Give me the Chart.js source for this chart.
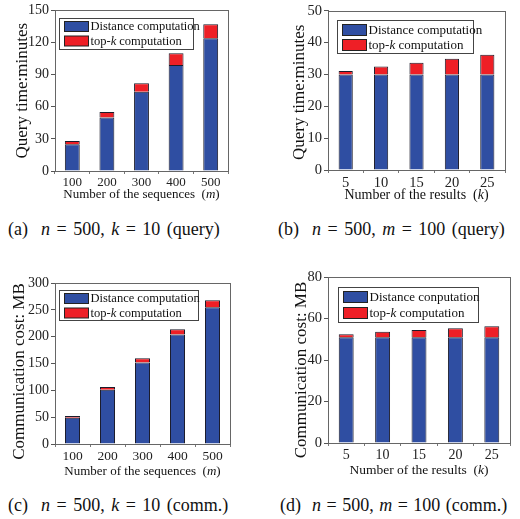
<!DOCTYPE html>
<html>
<head>
<meta charset="utf-8">
<script src="https://cdn.jsdelivr.net/npm/chart.js@4.4.1/dist/chart.umd.min.js"></script>
<style>
  body { margin: 0; background: #fff; width: 520px; height: 519px; position: relative; overflow: hidden; font-family: "Liberation Serif", serif; }
  canvas { position: absolute; }
  .cap { position: absolute; font-size: 18px; line-height: 20px; color: #111; white-space: pre; word-spacing: 2px; }
</style>
</head>
<body>
<canvas id="chartA" width="260" height="210" style="left:0;top:0"></canvas>
<canvas id="chartB" width="260" height="210" style="left:260px;top:0"></canvas>
<canvas id="chartC" width="260" height="215" style="left:0;top:265px"></canvas>
<canvas id="chartD" width="260" height="215" style="left:260px;top:265px"></canvas>

<div class="cap" style="left:8px;top:219px">(a)  <i>n</i> = 500, <i>k</i> = 10 (query)</div>
<div class="cap" style="left:278px;top:219px">(b)  <i>n</i> = 500, <i>m</i> = 100 (query)</div>
<div class="cap" style="left:8px;top:495px">(c)  <i>n</i> = 500, <i>k</i> = 10 (comm.)</div>
<div class="cap" style="left:280px;top:495px;word-spacing:1px">(d)  <i>n</i> = 500, <i>m</i> = 100 (comm.)</div>

<script>
// categories
const seqLabels = ['100', '200', '300', '400', '500'];
const resLabels = ['5', '10', '15', '20', '25'];

// (a) query time vs number of sequences
const queryDistSeq = [25, 50, 74, 99, 124];
const queryTopkSeq = [3, 5, 8, 11, 13];
// (b) query time vs number of results
const queryDistRes = [30, 30, 30, 30, 30];
const queryTopkRes = [1.1, 2.5, 3.7, 4.9, 6.2];
// (c) communication cost vs number of sequences
const commDistSeq = [49, 101, 152, 204, 255];
const commTopkSeq = [3, 5, 8, 10, 13];
// (d) communication cost vs number of results
const commDistRes = [51, 51, 51, 51, 51];
const commTopkRes = [1.4, 2.6, 3.4, 4.3, 5.3];

const FONT = '"Liberation Serif", "Times New Roman", serif';
const BLUE = '#2f4ea2';
const RED = '#ee1f26';

// text with *italic* parts
function drawRich(ctx, text, x, y, size, align) {
  const parts = text.split('*');
  let total = 0;
  parts.forEach((p, i) => {
    ctx.font = (i % 2 ? 'italic ' : '') + size + 'px ' + FONT;
    total += ctx.measureText(p).width;
  });
  let cx = align === 'center' ? x - total / 2 : x;
  ctx.textAlign = 'left';
  ctx.textBaseline = 'middle';
  ctx.fillStyle = '#111';
  parts.forEach((p, i) => {
    ctx.font = (i % 2 ? 'italic ' : '') + size + 'px ' + FONT;
    ctx.fillText(p, cx, y);
    cx += ctx.measureText(p).width;
  });
}

const framePlugin = {
  id: 'frame',
  afterDraw(chart, args, opts) {
    const { ctx, chartArea: a } = chart;
    ctx.save();
    ctx.strokeStyle = '#666';
    ctx.lineWidth = 1;
    ctx.strokeRect(Math.round(a.left) + 0.5, Math.round(a.top) + 0.5, Math.round(a.right - a.left), Math.round(a.bottom - a.top));

    // legend box inside the plot
    const lg = opts.legend;
    const bx = Math.round(a.left + lg.x) + 0.5, by = Math.round(a.top + lg.y) + 0.5;
    ctx.fillStyle = '#fff';
    ctx.fillRect(bx, by, lg.w, lg.h);
    ctx.strokeStyle = '#444';
    ctx.strokeRect(bx, by, lg.w, lg.h);
    chart.data.datasets.forEach((ds, i) => {
      const sy = by + lg.pad + i * lg.step;
      ctx.fillStyle = ds.backgroundColor;
      ctx.fillRect(bx + 5, sy, 24, lg.box);
      ctx.strokeStyle = '#222';
      ctx.strokeRect(bx + 5, sy, 24, lg.box);
      drawRich(ctx, ds.label, bx + 31, sy + lg.box / 2 + 0.5, lg.font);
    });

    // axis titles
    drawRich(ctx, opts.xTitle, (a.left + a.right) / 2, a.bottom + opts.xTitleDy, opts.xFont, 'center');
    ctx.translate(opts.yTitleX, (a.top + a.bottom) / 2 + opts.yTitleDy);
    ctx.rotate(-Math.PI / 2);
    drawRich(ctx, opts.yTitle, 0, 0, 17, 'center');
    ctx.restore();
  }
};

function makeChart(id, p) {
  return new Chart(document.getElementById(id), {
    type: 'bar',
    data: {
      labels: p.labels,
      datasets: [
        { label: p.distLabel, data: p.dist, backgroundColor: BLUE, borderColor: '#1c1c2a', borderWidth: 1 },
        { label: 'top-*k* computation', data: p.topk, backgroundColor: RED, borderColor: '#1c1c2a', borderWidth: 1 }
      ]
    },
    options: {
      responsive: false,
      animation: false,
      layout: { padding: { top: p.pt, right: p.pr, left: 0, bottom: 0 } },
      datasets: { bar: { categoryPercentage: 1, barPercentage: p.bar } },
      plugins: {
        legend: { display: false },
        tooltip: { enabled: false },
        frame: {
          legend: p.legend, xTitle: p.xTitle, xTitleDy: p.xTitleDy, xFont: p.xFont,
          yTitle: p.yTitle, yTitleX: p.yTitleX, yTitleDy: p.yTitleDy
        }
      },
      scales: {
        x: {
          stacked: true,
          offset: true,
          grid: { drawOnChartArea: false, drawTicks: true, tickLength: 3, offset: true, color: '#777' },
          border: { color: '#666' },
          ticks: { font: { family: FONT, size: p.xTick }, color: '#222', padding: 1 },
          afterFit: s => { s.height = p.xh; }
        },
        y: {
          stacked: true,
          min: 0,
          max: p.max,
          ticks: { stepSize: p.step, font: { family: FONT, size: p.yTick }, color: '#222', padding: 2 },
          grid: { drawOnChartArea: false, tickLength: 4, color: '#555' },
          border: { color: '#666' },
          afterFit: s => { s.width = p.yw; }
        }
      }
    },
    plugins: [framePlugin]
  });
}

makeChart('chartA', {
  labels: seqLabels, dist: queryDistSeq, topk: queryTopkSeq, distLabel: 'Distance computation',
  max: 150, step: 30, yTitle: 'Query time:minutes', xTitle: 'Number of the sequences  (*m*)',
  pt: 9, pr: 32, yw: 55, xh: 39, yTitleX: 23, yTitleDy: 0, bar: 0.43, xTick: 13, yTick: 14, xFont: 13, xTitleDy: 24,
  legend: { x: 4, y: 8, w: 134, h: 31, pad: 3, step: 14.5, box: 10, font: 12.5 }
});

makeChart('chartB', {
  labels: resLabels, dist: queryDistRes, topk: queryTopkRes, distLabel: 'Distance computation',
  max: 50, step: 10, yTitle: 'Query time:minutes', xTitle: 'Number of the results  (*k*)',
  pt: 7, pr: 15, yw: 68, xh: 40, yTitleX: 40, yTitleDy: 2, bar: 0.40, xTick: 14.5, yTick: 14.5, xFont: 14, xTitleDy: 25,
  legend: { x: 9, y: 9, w: 136, h: 33, pad: 4, step: 15, box: 11, font: 13 }
});

makeChart('chartC', {
  labels: seqLabels, dist: commDistSeq, topk: commTopkSeq, distLabel: 'Distance computation',
  max: 300, step: 50, yTitle: 'Communication cost: MB', xTitle: 'Number of the sequences  (*m*)',
  pt: 18, pr: 30, yw: 55, xh: 36, yTitleX: 20, yTitleDy: 8, bar: 0.43, xTick: 13.5, yTick: 14, xFont: 13, xTitleDy: 28,
  legend: { x: 4, y: 7, w: 139, h: 30, pad: 3, step: 14.5, box: 10, font: 12.5 }
});

makeChart('chartD', {
  labels: resLabels, dist: commDistRes, topk: commTopkRes, distLabel: 'Distance conputation',
  max: 80, step: 20, yTitle: 'Communication cost: MB', xTitle: 'Number of the results  (*k*)',
  pt: 12, pr: 10, yw: 68, xh: 37, yTitleX: 42, yTitleDy: 10, bar: 0.41, xTick: 14, yTick: 14.5, xFont: 13.5, xTitleDy: 27,
  legend: { x: 10, y: 10, w: 140, h: 35, pad: 4, step: 16, box: 11, font: 13 }
});
</script>
</body>
</html>
